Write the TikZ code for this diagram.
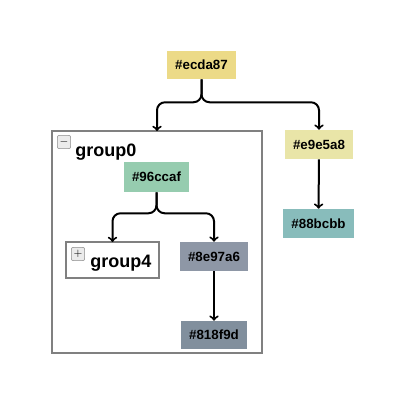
\documentclass[tikz,border=0pt]{standalone}
\usepackage{fontspec}
\setmainfont{Liberation Sans}
\tikzset{
  leaf/.style={inner sep=0pt, font=\bfseries\fontsize{10}{12}\selectfont},
  grp/.style={draw=black!50, line width=1.5pt, inner sep=0pt},
  tog/.style={draw=black!45, fill=black!8, rounded corners=1.5pt, minimum size=10pt, inner sep=0pt, font=\bfseries\fontsize{8}{8}\selectfont},
  grplabel/.style={anchor=base west, inner sep=0pt, font=\bfseries\fontsize{13.5}{15}\selectfont},
  link/.style={->, line width=1.5pt, rounded corners=6pt}
}
\definecolor{cecda87}{HTML}{ECDA87}
\definecolor{ce9e5a8}{HTML}{E9E5A8}
\definecolor{c88bcbb}{HTML}{88BCBB}
\definecolor{c96ccaf}{HTML}{96CCAF}
\definecolor{c8e97a6}{HTML}{8E97A6}
\definecolor{c818f9d}{HTML}{818F9D}
\begin{document}
\begin{tikzpicture}[x=0.75pt, y=-0.75pt]
  \useasboundingbox (0,0) rectangle (400,400);
  % groups
  \draw[grp] (52,131) rectangle (262,353);
  \coordinate (g0) at (157,131);
  \node[tog] (m0) at (64,142) {$-$};
  \node[grplabel] (l0) at (75,156) {group0};
  \draw[grp, fill=white] (66,242) rectangle (159,278);
  \coordinate (g4) at (112.5,242);
  \node[tog] (p4) at (78,254) {$+$};
  \node[grplabel] (l4) at (90,267) {group4};
  % leaves
  \draw
    (201.5,65) node[leaf, fill=cecda87, minimum width=51.75pt, minimum height=21pt] (a){\#ecda87}
    (319,144.5) node[leaf, fill=ce9e5a8, minimum width=51pt, minimum height=21.75pt] (b){\#e9e5a8}
    (318.5,223.5) node[leaf, fill=c88bcbb, minimum width=53.25pt, minimum height=21.75pt] (c){\#88bcbb}
    (156.5,177) node[leaf, fill=c96ccaf, minimum width=48.75pt, minimum height=22.5pt] (d){\#96ccaf}
    (214,256.5) node[leaf, fill=c8e97a6, minimum width=51pt, minimum height=21.75pt] (e){\#8e97a6}
    (214,335) node[leaf, fill=c818f9d, minimum width=49.5pt, minimum height=21pt] (f){\#818f9d};
  \begin{scope}[link]
    \draw (a.south) -- ++(0,23) -| (g0);
    \draw (a.south) -- ++(0,23) -| (b.north);
    \draw (b) to (c);
    \draw (d.south) -- ++(0,21) -| (g4);
    \draw (d.south) -- ++(0,21) -| (e.north);
    \draw (e) to (f);
  \end{scope}
\end{tikzpicture}
\end{document}
